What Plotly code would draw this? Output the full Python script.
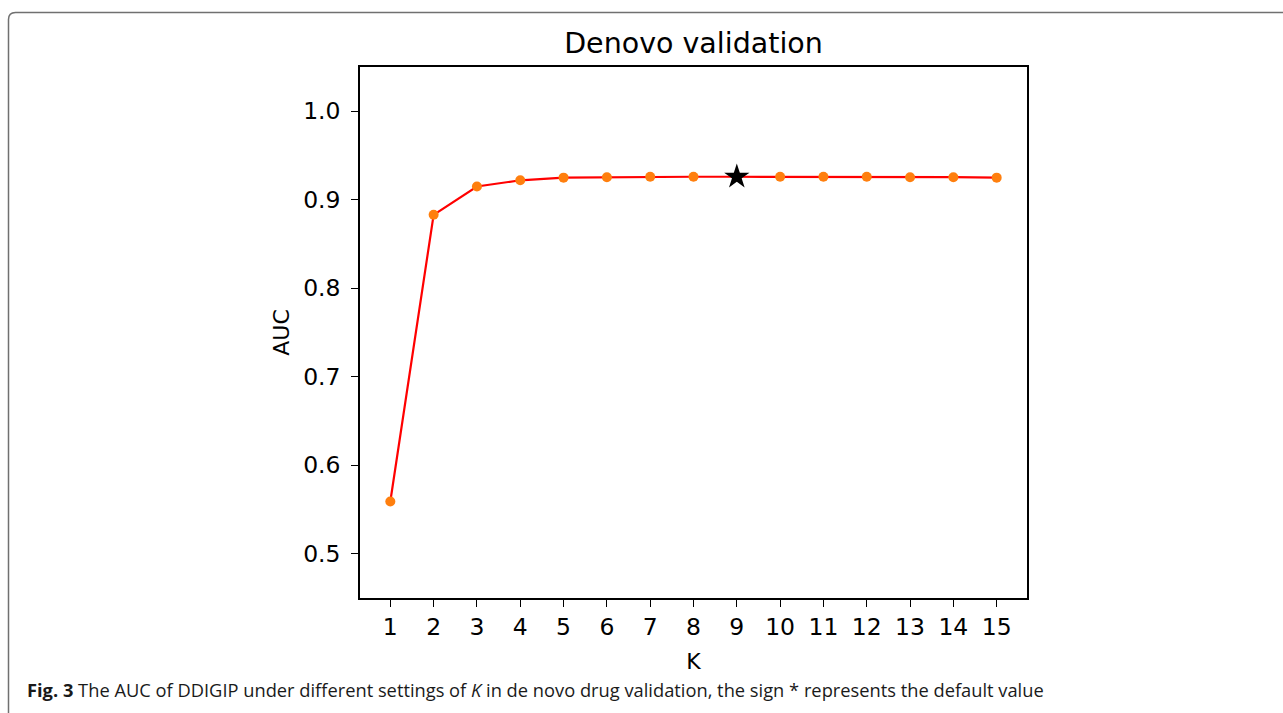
import plotly.graph_objects as go

# Data
K = list(range(1, 16))
AUC = [0.559, 0.883, 0.915, 0.922, 0.925, 0.9255, 0.926, 0.926, 0.926,
       0.926, 0.926, 0.926, 0.9255, 0.9255, 0.925]
default_K = 9
x_ticks = list(range(1, 16))
y_ticks = [0.5, 0.6, 0.7, 0.8, 0.9, 1.0]
title_text = "Denovo validation"
caption_bold = "Fig. 3"
caption_text = (" The AUC of DDIGIP under different settings of <i>K</i> in de novo drug "
                "validation, the sign * represents the default value")

W, H = 1283, 713
L, R, T, B = 360, 1027, 67, 598  # plot area in pixels


def px(xp):
    return (xp - L) / (R - L)


def py(yp):
    return (B - yp) / (B - T)


fig = go.Figure()
fig.add_trace(go.Scatter(x=K, y=AUC, mode="lines",
                         line=dict(color="#ff0000", width=2.2), showlegend=False,
                         hoverinfo="skip"))
fig.add_trace(go.Scatter(x=K, y=AUC, mode="markers",
                         marker=dict(color="#ff7f0e", size=10, line=dict(width=0)),
                         showlegend=False))
fig.add_trace(go.Scatter(x=[default_K], y=[AUC[K.index(default_K)]], mode="markers",
                         marker=dict(color="black", symbol="star", size=19,
                                     line=dict(width=0)),
                         showlegend=False))

axis_common = dict(showline=True, linecolor="black", linewidth=1.6, mirror=True,
                   ticks="outside", ticklen=7, tickwidth=1.4, tickcolor="black",
                   showgrid=False, zeroline=False,
                   tickfont=dict(family="DejaVu Sans", size=23.5, color="black"))

fig.update_xaxes(range=[0.3, 15.7], tickvals=x_ticks,
                 ticktext=[str(v) for v in x_ticks],
                 title=dict(text="K", font=dict(family="DejaVu Sans", size=22, color="black"),
                            standoff=14),
                 **axis_common)
fig.update_yaxes(range=[0.45, 1.05], tickvals=y_ticks,
                 ticktext=[f"{v:.1f}" for v in y_ticks],
                 title=dict(text="AUC", font=dict(family="DejaVu Sans", size=22, color="black"),
                            standoff=7),
                 ticklabelstandoff=6,
                 **axis_common)

# outer rounded frame (figure panel border)
r = 7
path = (f"M {px(8.5)},{py(720)} L {px(8.5)},{py(12.5 + r)} "
        f"Q {px(8.5)},{py(12.5)} {px(8.5 + r)},{py(12.5)} L {px(1290)},{py(12.5)}")
fig.add_shape(type="path", path=path, xref="paper", yref="paper",
              line=dict(color="#707070", width=1.5), layer="below")

fig.add_annotation(text=f"<b>{caption_bold}</b>{caption_text}", xref="paper", yref="paper",
                   x=px(25), y=py(689), xanchor="left", yanchor="middle", showarrow=False,
                   font=dict(family="Open Sans", size=18.3, color="#1a1a1a"))

fig.update_layout(
    width=W, height=H,
    margin=dict(l=L, r=W - R, t=T, b=H - B),
    paper_bgcolor="white", plot_bgcolor="white",
    title=dict(text=title_text, x=(L + R) / 2 / W, xanchor="center",
               y=1 - 43 / H, yanchor="middle", yref="container",
               font=dict(family="DejaVu Sans", size=28.5, color="black")),
)

fig.write_html("out.html", config={"displayModeBar": False},
               post_script="document.body.style.margin='0';document.body.style.overflow='hidden';")
